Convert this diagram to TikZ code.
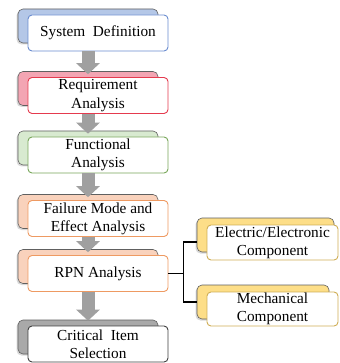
\documentclass[tikz,border=0pt]{standalone}
\usepackage{fontspec}
\setmainfont{Liberation Serif}
\usetikzlibrary{arrows.meta,shadows,calc}

% stage colours: back fill / front border
\definecolor{blueback}{HTML}{B4C7E7}
\definecolor{blueline}{HTML}{6A8CCF}
\definecolor{redback}{HTML}{F3A5B3}
\definecolor{redline}{HTML}{E53A4E}
\definecolor{greenback}{HTML}{D8EAD0}
\definecolor{greenline}{HTML}{78A75A}
\definecolor{peachback}{HTML}{F9D2BC}
\definecolor{orangeline}{HTML}{EE9A62}
\definecolor{grayback}{HTML}{A9A9A9}
\definecolor{grayline}{HTML}{404040}
\definecolor{yellowback}{HTML}{FDDE88}
\definecolor{yellowline}{HTML}{CFAE55}
\definecolor{arrowgray}{HTML}{A0A0A0}

\tikzset{
  backbox/.style={rounded corners=5pt, draw=gray!75!black, line width=0.6pt,
    minimum width=140pt, minimum height=34pt, inner sep=0pt,
    drop shadow={shadow xshift=-1.5pt, shadow yshift=-1.5pt, opacity=0.3}},
  frontbox/.style={rounded corners=4pt, fill=white, line width=0.9pt,
    minimum width=140pt, minimum height=36pt, inner sep=0pt, align=center,
    font=\fontsize{15.3}{18.3}\selectfont},
  flow/.style={arrowgray, line width=13pt,
    -{Triangle[width=23pt,length=11pt]}},
  link/.style={black, line width=1.2pt}
}

\begin{document}
\begin{tikzpicture}[x=1pt,y=-1pt]
\useasboundingbox[fill=white] (0,0) rectangle (339,363);

% main column: shaded back plates
\node[backbox, fill=blueback]   (b1) at (88,26)    {};
\node[backbox, fill=redback]    (b2) at (88,88.5)  {};
\node[backbox, fill=greenback]  (b3) at (88,148)   {};
\node[backbox, fill=peachback]  (b4) at (88,211.5) {};
\node[backbox, fill=peachback]  (b5) at (88,266.5) {};
\node[backbox, fill=grayback]   (b6) at (88,337)   {};

% side column: back plates
\node[backbox, fill=yellowback, minimum width=137pt] (be) at (265.5,235) {};
\node[backbox, fill=yellowback, minimum width=132pt] (bm) at (263,302) {};

% front boxes
\node[frontbox, draw=blueline]   (f1) at (98,33)    {System\ \ Definition};
\node[frontbox, draw=redline]    (f2) at (98,95.5)  {Requirement\\Analysis};
\node[frontbox, draw=greenline]  (f3) at (98,155)   {Functional\\Analysis};
\node[frontbox, draw=orangeline] (f4) at (98,218.5) {Failure Mode and\\Effect Analysis};
\node[frontbox, draw=orangeline] (f5) at (98,273.5) {RPN Analysis};
\node[frontbox, draw=grayline]   (f6) at (98,344)   {Critical\ \ Item\\Selection};

\node[frontbox, draw=yellowline, minimum width=131pt, minimum height=35pt]
  (fe) at (272.5,242.5) {Electric/Electronic\\Component};
\node[frontbox, draw=yellowline, minimum width=131pt, minimum height=34pt]
  (fm) at (272.5,309) {Mechanical\\Component};

% flow arrows between stages
\draw[flow] (f1.south -| b1.center) -- ([yshift=-3pt]b2.north);
\draw[flow] (f2.south -| b2.center) -- ([yshift=-3pt]b3.north);
\draw[flow] (f3.south -| b3.center) -- ([yshift=-3pt]b4.north);
\draw[flow] (f4.south -| b4.center) -- ([yshift=-3pt]b5.north);
\draw[flow] (f5.south -| b5.center) -- ([yshift=-1pt]b6.north);

% branch from RPN analysis to component classes
\coordinate (jn) at ([xshift=15pt]f5.east);
\draw[link] (f5.east) -- (jn);
\draw[link] ([yshift=-7pt]be.west) -| (jn) |- (bm.west);
\end{tikzpicture}
\end{document}
